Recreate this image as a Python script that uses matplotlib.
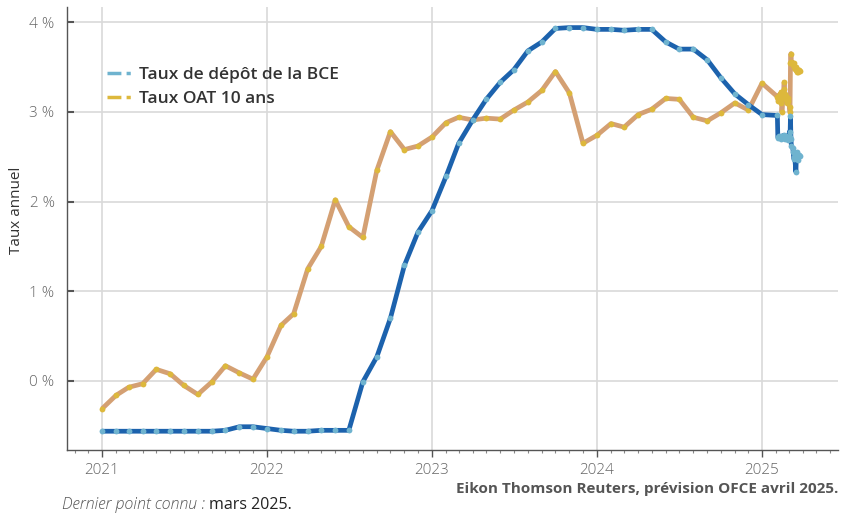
import numpy as np
import pandas as pd
import matplotlib
matplotlib.use("Agg")
import matplotlib.pyplot as plt
from matplotlib.lines import Line2D

# monthly series, Jan 2021 -> Jan 2025
depot_mensuel = [
    -0.56, -0.56, -0.56, -0.56, -0.56, -0.56, -0.56, -0.56, -0.56, -0.55, -0.51, -0.51,
    -0.53, -0.55, -0.56, -0.56, -0.55, -0.55, -0.55, -0.01, 0.27, 0.70, 1.29, 1.66,
    1.90, 2.28, 2.65, 2.91, 3.14, 3.33, 3.47, 3.68, 3.78, 3.93, 3.94, 3.94,
    3.92, 3.92, 3.91, 3.92, 3.92, 3.78, 3.70, 3.70, 3.58, 3.38, 3.20, 3.08,
    2.97,
]
oat_mensuel = [
    -0.31, -0.16, -0.07, -0.03, 0.13, 0.08, -0.05, -0.15, -0.01, 0.17, 0.09, 0.02,
    0.27, 0.62, 0.75, 1.25, 1.50, 2.02, 1.72, 1.60, 2.35, 2.78, 2.58, 2.62,
    2.72, 2.88, 2.94, 2.91, 2.93, 2.92, 3.02, 3.11, 3.24, 3.45, 3.21, 2.65,
    2.74, 2.87, 2.83, 2.97, 3.03, 3.15, 3.14, 2.94, 2.90, 2.99, 3.10, 3.02,
    3.32,
]

# daily points, 4 Feb -> 25 Mar 2025 (business days)
depot_jour = [
    2.96,
    2.72, 2.71, 2.73, 2.72, 2.70, 2.72, 2.73, 2.71, 2.72, 2.74, 2.71, 2.72, 2.70, 2.73, 2.72, 2.71, 2.69, 2.72,
    2.78, 2.72, 2.95, 2.70, 2.62, 2.60, 2.55, 2.50, 2.47, 2.52, 2.33, 2.50, 2.48, 2.55, 2.46, 2.52, 2.51,
]
oat_jour = [
    3.17,
    3.15, 3.12, 3.18, 3.20, 3.10, 3.22, 3.15, 3.00, 3.18, 3.25, 3.33, 3.20, 3.14, 3.18, 3.12, 3.10, 3.15, 3.12,
    3.05, 3.00, 3.55, 3.65, 3.56, 3.55, 3.52, 3.50, 3.54, 3.48, 3.47, 3.50, 3.45, 3.46, 3.44, 3.47, 3.46,
]

annees = [2021, 2022, 2023, 2024, 2025]
yticks = [0, 1, 2, 3, 4]


def to_year(dates):
    return dates.year + (dates.dayofyear - 1) / 365.0


mois = pd.date_range("2021-01-01", periods=len(depot_mensuel), freq="MS")
jours = pd.bdate_range("2025-02-04", periods=len(depot_jour))
x = np.concatenate([to_year(mois), to_year(jours)])
depot = np.array(depot_mensuel + depot_jour)
oat = np.array(oat_mensuel + oat_jour)

plt.rcParams['font.family'] = ['Open Sans', 'DejaVu Sans']

fig = plt.figure(figsize=(8.44, 5.15), dpi=100)
ax = fig.add_axes([67 / 844, 1 - 450 / 515, 771 / 844, 443 / 515])

blue_dark, blue_light = '#1c62ad', '#6fb3cf'
tan_dark, tan_light = '#d4a073', '#ddb83c'

ax.plot(x, oat, color=tan_dark, lw=3.4, solid_capstyle='butt', zorder=3,
        marker='o', ms=4.2, mfc=tan_light, mec='none')
ax.plot(x, depot, color=blue_dark, lw=3.4, solid_capstyle='butt', zorder=4,
        marker='o', ms=4.2, mfc=blue_light, mec='none')

ax.set_xlim(2021 - 35 / 165, 2025 + 76 / 165)
ax.set_ylim((381 - 450) / 89.7, (381 - 7) / 89.7)

ax.set_xticks(annees)
ax.set_xticklabels([str(a) for a in annees])
ax.set_xticks(to_year(pd.date_range("2020-11-01", "2025-06-01", freq="MS")), minor=True)
ax.set_yticks(yticks)
ax.set_yticklabels([f"{v} %" for v in yticks])

ax.grid(True, which='major', color='#d9d9d9', lw=1.2, zorder=0)
ax.set_axisbelow(True)
for s in ['top', 'right']:
    ax.spines[s].set_visible(False)
for s in ['left', 'bottom']:
    ax.spines[s].set_color('#555555')
    ax.spines[s].set_linewidth(1.0)

ax.tick_params(axis='y', direction='in', length=5, width=1.5, color='#555555',
               labelsize=11, labelcolor='#666666', pad=9)
ax.tick_params(axis='x', which='major', direction='out', length=5, width=1, color='#555555',
               labelsize=11, labelcolor='#666666', pad=4)
ax.tick_params(axis='x', which='minor', direction='out', length=2.5, width=0.8, color='#888888')
for lab in ax.get_xticklabels() + ax.get_yticklabels():
    lab.set_fontweight('light')

ax.set_ylabel("Taux annuel", fontsize=11, color='#333333')
ax.yaxis.set_label_coords(-0.056, 0.54)

handles = [
    Line2D([], [], color=blue_light, lw=2.5, dashes=(4, 1.5, 1.2, 1.5)),
    Line2D([], [], color=tan_light, lw=2.5, dashes=(4, 1.5, 1.2, 1.5)),
]
leg = ax.legend(handles, ["Taux de dépôt de la BCE", "Taux OAT 10 ans"],
                loc='upper left', bbox_to_anchor=(0.032, 0.9), frameon=False,
                handlelength=1.4, handletextpad=0.45, labelspacing=0.45,
                prop={'weight': 'semibold', 'size': 12.5})
for t in leg.get_texts():
    t.set_color('#333333')

fig.text(838 / 844, 1 - 489 / 515, "Eikon Thomson Reuters, prévision OFCE avril 2025.",
         ha='right', va='center', fontsize=11, fontweight='bold', color='#555555')

fig.canvas.draw()
t1 = fig.text(62 / 844, 1 - 505 / 515, "Dernier point connu : ", ha='left', va='center',
              fontsize=11.5, style='italic', fontweight='light', color='#555555')
fig.canvas.draw()
bb = t1.get_window_extent()
fig.text(bb.x1 / fig.bbox.width, 1 - 505 / 515, "mars 2025.", ha='left', va='center',
         fontsize=11.5, color='#222222')

fig.savefig("out.png", dpi=100)
